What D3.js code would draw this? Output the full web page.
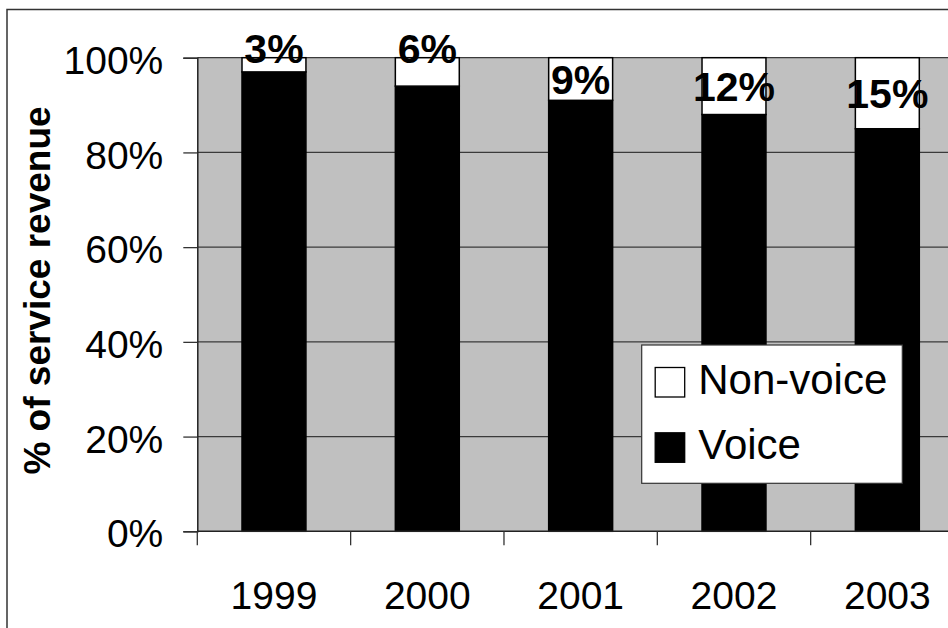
<!DOCTYPE html>
<html>
<head>
<meta charset="utf-8">
<script src="https://cdn.jsdelivr.net/npm/d3@7"></script>
<style>
  html, body { margin: 0; padding: 0; background: #fff; }
  svg { display: block; }
  text { font-family: "Liberation Sans", Arial, Helvetica, sans-serif; }
</style>
</head>
<body>
<svg id="chart" width="948" height="628"></svg>
<script>
// Share of mobile service revenue by type, per year
const years = ["1999", "2000", "2001", "2002", "2003"];
const nonVoice = [3, 6, 9, 12, 15];
const voice = [97, 94, 91, 88, 85];
const yTicks = [0, 20, 40, 60, 80, 100];
const seriesNames = ["Non-voice", "Voice"];

const svg = d3.select("#chart");
const W = 948, H = 628;

// Plot frame (the grey area runs past the right edge of the page)
const plot = { left: 197.3, right: 964, top: 57.7, bottom: 531.3 };

const x = d3.scaleBand().domain(years).range([plot.left, plot.right]).padding(0);
const y = d3.scaleLinear().domain([0, 100]).range([plot.bottom, plot.top]);
const barW = x.bandwidth() * 0.417;

// Outer chart border
svg.append("rect")
  .attr("x", 7).attr("y", 9.5)
  .attr("width", W + 20).attr("height", H + 20)
  .attr("fill", "#fff").attr("stroke", "#333").attr("stroke-width", 1.5);

// Grey plot background
svg.append("rect")
  .attr("x", plot.left).attr("y", plot.top)
  .attr("width", plot.right - plot.left).attr("height", plot.bottom - plot.top)
  .attr("fill", "#c0c0c0");

// Horizontal gridlines
svg.append("g").selectAll("line").data(yTicks.filter(d => d > 0)).join("line")
  .attr("x1", plot.left).attr("x2", plot.right)
  .attr("y1", d => y(d)).attr("y2", d => y(d))
  .attr("stroke", "#3a3a3a").attr("stroke-width", 1.3);

// Stacked bars: voice at the bottom, non-voice on top
const stackData = years.map((yr, i) => ({ year: yr, voice: voice[i], nonVoice: nonVoice[i] }));
const stack = d3.stack().keys(["voice", "nonVoice"])(stackData);
const fills = { voice: "#000", nonVoice: "#fff" };

svg.append("g").selectAll("g").data(stack).join("g")
  .attr("fill", d => fills[d.key])
  .selectAll("rect").data(d => d).join("rect")
    .attr("x", d => x(d.data.year) + (x.bandwidth() - barW) / 2)
    .attr("y", d => y(d[1]))
    .attr("width", barW)
    .attr("height", d => y(d[0]) - y(d[1]))
    .attr("stroke", "#000").attr("stroke-width", 1.5);

// Y axis
const yAxis = d3.axisLeft(y).tickValues(yTicks).tickSize(14).tickPadding(20)
  .tickFormat(d => d + "%");
const gy = svg.append("g").attr("transform", `translate(${plot.left},0)`).call(yAxis);
gy.select(".domain").attr("stroke", "#222").attr("stroke-width", 1.5);
gy.selectAll(".tick line").attr("stroke", "#333").attr("stroke-width", 1.3);
gy.selectAll(".tick text")
  .attr("font-size", 39).attr("fill", "#000")
  .attr("font-family", "Liberation Sans, Arial, sans-serif")
  .attr("dy", "0.4em");

// X axis: ticks at category boundaries, labels at centres
const gx = svg.append("g").attr("transform", `translate(0,${plot.bottom})`);
gx.append("line")
  .attr("x1", plot.left).attr("x2", plot.right)
  .attr("stroke", "#222").attr("stroke-width", 1.5);
gx.selectAll("line.tick").data(years).join("line").attr("class", "tick")
  .attr("x1", d => x(d)).attr("x2", d => x(d))
  .attr("y1", 0).attr("y2", 14)
  .attr("stroke", "#333").attr("stroke-width", 1.3);
gx.selectAll("text").data(years).join("text")
  .attr("x", d => x(d) + x.bandwidth() / 2)
  .attr("y", 78)
  .attr("text-anchor", "middle")
  .attr("font-size", 39)
  .text(d => d);

// Y axis title
svg.append("text")
  .attr("transform", `translate(50,${(plot.top + plot.bottom) / 2 - 4}) rotate(-90)`)
  .attr("text-anchor", "middle")
  .attr("font-size", 37).attr("font-weight", "bold")
  .text("% of service revenue");

// Value labels on the non-voice segments
const labelSize = 41, capH = labelSize * 0.716;
svg.append("g").selectAll("text").data(stack[1]).join("text")
  .attr("x", d => x(d.data.year) + x.bandwidth() / 2)
  .attr("y", d => {
    const top = y(d[1]), bot = y(d[0]);
    return (bot - top) >= capH + 8 ? (top + bot) / 2 + capH / 2 : top + 5.5;
  })
  .attr("text-anchor", "middle")
  .attr("font-size", labelSize).attr("font-weight", "bold")
  .text(d => d.data.nonVoice + "%");

// Legend
const lg = svg.append("g").attr("transform", "translate(641.7,345)");
lg.append("rect")
  .attr("width", 260.6).attr("height", 138.3)
  .attr("fill", "#fff").attr("stroke", "#333").attr("stroke-width", 1.2);
const legendFill = ["#fff", "#000"];
const items = lg.selectAll("g").data(seriesNames).join("g")
  .attr("transform", (d, i) => `translate(13.5,${22.5 + i * 65.3})`);
items.append("rect")
  .attr("width", 29.5).attr("height", 29.5)
  .attr("fill", (d, i) => legendFill[i]).attr("stroke", "#000").attr("stroke-width", 1.3);
items.append("text")
  .attr("x", 43).attr("y", 26)
  .attr("font-size", 42)
  .text(d => d);
</script>
</body>
</html>
